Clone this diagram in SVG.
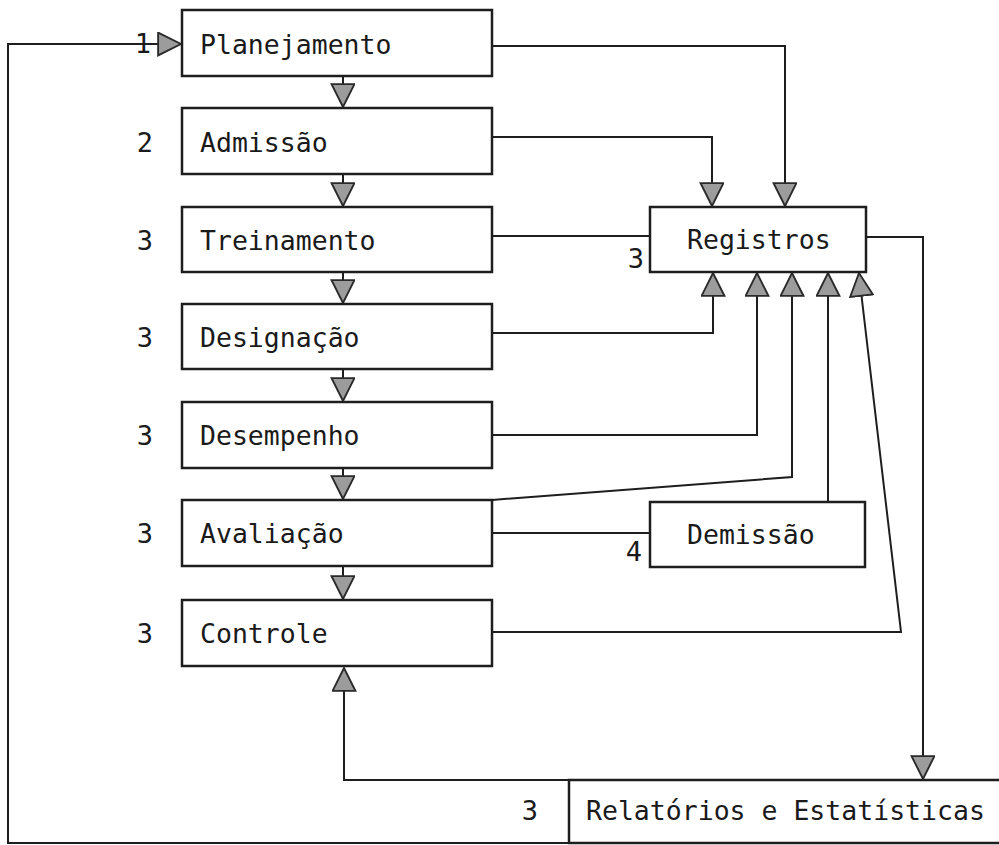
<svg xmlns="http://www.w3.org/2000/svg" width="999" height="845" viewBox="0 0 999 845">
<style>
.box{fill:none;stroke:#1e1e1e;stroke-width:2.5}
.lbl{font-family:"DejaVu Sans Mono","Liberation Mono",monospace;font-size:26.5px;fill:#1a1a1a}
.num{font-family:"DejaVu Sans Mono","Liberation Mono",monospace;font-size:27px;fill:#1a1a1a;text-anchor:middle}
.con{fill:none;stroke:#1e1e1e;stroke-width:2}
</style>
<defs>
<marker id="ah" markerUnits="userSpaceOnUse" markerWidth="26" markerHeight="26" viewBox="-1 -1 25 25" refX="22" refY="11" orient="auto">
<path d="M0,0 L22,11 L0,22 Z" fill="#9c9c9c" stroke="#2a2a2a" stroke-width="1.8"/>
</marker>
</defs>
<rect width="999" height="845" fill="#ffffff"/>
<g id="connectors">
<path class="con" d="M569,843 H8 V44 H181" marker-end="url(#ah)"/>
<path class="con" d="M343,76 V107" marker-end="url(#ah)"/>
<path class="con" d="M343,174 V206" marker-end="url(#ah)"/>
<path class="con" d="M343,272 V303" marker-end="url(#ah)"/>
<path class="con" d="M343,369 V401" marker-end="url(#ah)"/>
<path class="con" d="M343,468 V499" marker-end="url(#ah)"/>
<path class="con" d="M343,566 V599" marker-end="url(#ah)"/>
<path class="con" d="M492,46 H785 V206" marker-end="url(#ah)"/>
<path class="con" d="M492,137 H712 V206" marker-end="url(#ah)"/>
<path class="con" d="M492,236 H650"/>
<path class="con" d="M492,333 H713 V273" marker-end="url(#ah)"/>
<path class="con" d="M492,435 H757 V273" marker-end="url(#ah)"/>
<path class="con" d="M492,500 L792,477 V273" marker-end="url(#ah)"/>
<path class="con" d="M828,502 V273" marker-end="url(#ah)"/>
<path class="con" d="M492,632 H901 L862,300 L859,273" marker-end="url(#ah)"/>
<path class="con" d="M492,533 H650"/>
<path class="con" d="M866,237 H923 V779" marker-end="url(#ah)"/>
<path class="con" d="M569,780 H344 V668" marker-end="url(#ah)"/>
</g>
<g id="planejamento"><rect class="box" x="182" y="10" width="310" height="66"/><text class="lbl" x="200" y="54">Planejamento</text><text class="num" x="143" y="53">1</text></g>
<g id="admissao"><rect class="box" x="182" y="108" width="310" height="66"/><text class="lbl" x="200" y="152">Admissão</text><text class="num" x="145" y="152">2</text></g>
<g id="treinamento"><rect class="box" x="182" y="207" width="310" height="65"/><text class="lbl" x="200" y="250">Treinamento</text><text class="num" x="145" y="250">3</text></g>
<g id="designacao"><rect class="box" x="182" y="304" width="310" height="65"/><text class="lbl" x="200" y="347">Designação</text><text class="num" x="145" y="347">3</text></g>
<g id="desempenho"><rect class="box" x="182" y="402" width="310" height="66"/><text class="lbl" x="200" y="445">Desempenho</text><text class="num" x="145" y="445">3</text></g>
<g id="avaliacao"><rect class="box" x="182" y="500" width="310" height="66"/><text class="lbl" x="200" y="543">Avaliação</text><text class="num" x="145" y="543">3</text></g>
<g id="controle"><rect class="box" x="182" y="600" width="310" height="66"/><text class="lbl" x="200" y="643">Controle</text><text class="num" x="145" y="643">3</text></g>
<g id="registros"><rect class="box" x="650" y="207" width="216" height="65"/><text class="lbl" x="687" y="249">Registros</text><text class="num" x="636" y="268">3</text></g>
<g id="demissao"><rect class="box" x="650" y="502" width="215" height="65"/><text class="lbl" x="687" y="544">Demissão</text><text class="num" x="634" y="561">4</text></g>
<g id="relatorios"><path class="box" d="M999,780 H569 V843 H999"/><text class="lbl" x="586" y="820">Relatórios e Estatísticas</text><text class="num" x="530" y="820">3</text></g>
</svg>
